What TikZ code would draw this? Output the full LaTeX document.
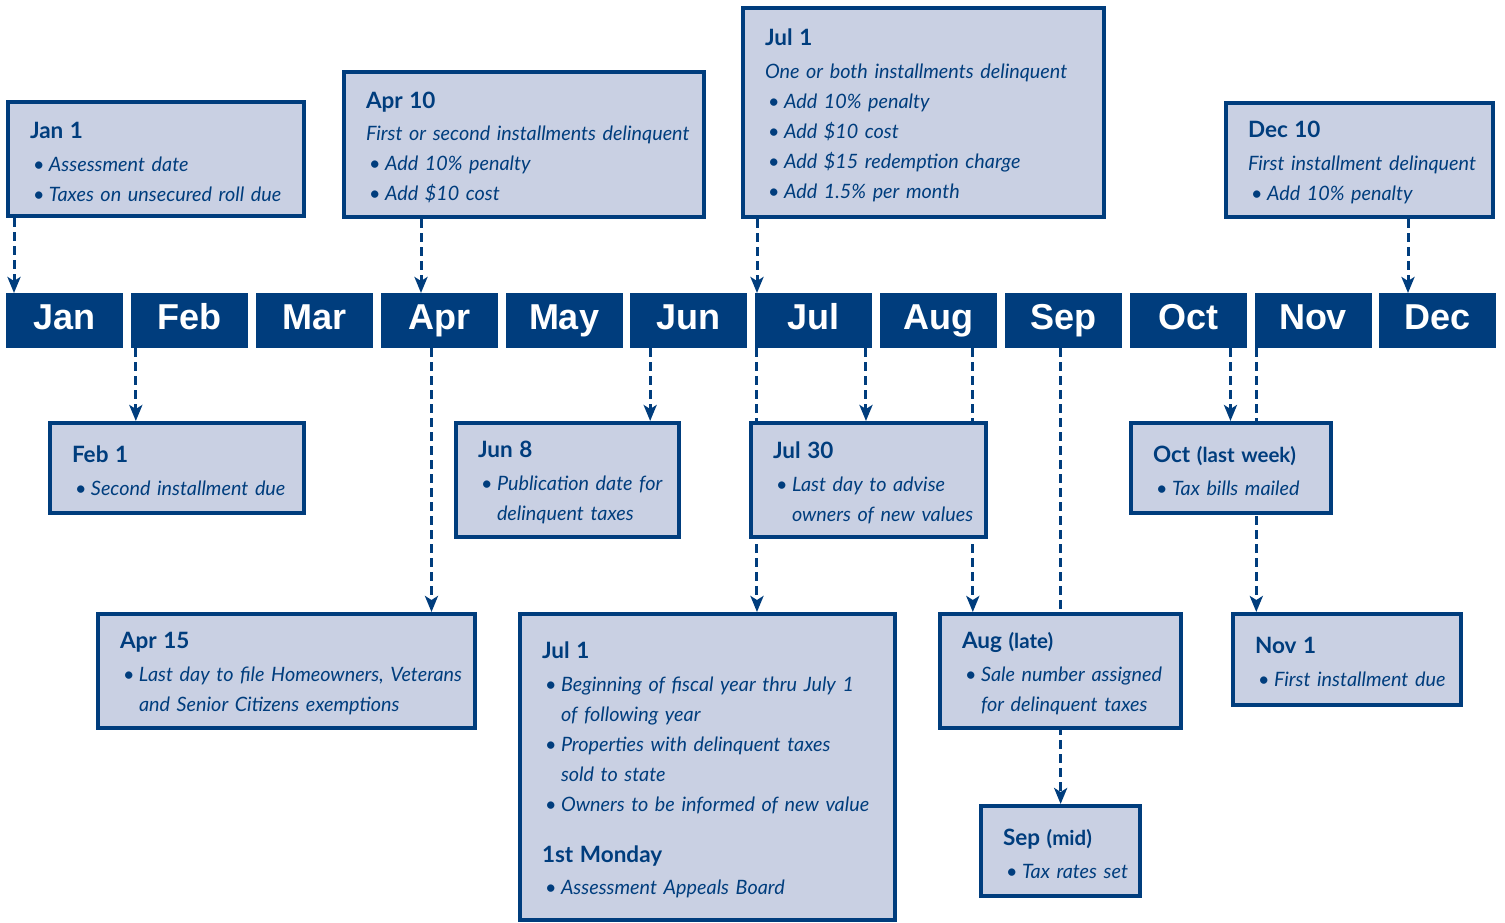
\documentclass[tikz,border=0pt]{standalone}
\usepackage{fontspec}
\setmainfont{Lato}
\newfontfamily\monthfont{Liberation Sans}
\usetikzlibrary{arrows.meta,backgrounds}

\definecolor{navy}{HTML}{003D7D}
\definecolor{boxfill}{HTML}{C9D0E3}

\newcommand{\evtitle}[1]{{\upshape\bfseries\fontsize{22.5}{30}\selectfont\rule{0pt}{22pt}#1}}
\newcommand{\evsub}[1]{{\upshape\bfseries\fontsize{20.5}{30}\selectfont #1}}
\newcommand{\bul}[1]{\hspace*{3pt}\makebox[16pt][l]{\textbullet}\mbox{#1}}
\newcommand{\contline}[1]{\hspace*{19pt}\mbox{#1}}

\tikzset{
  evbox/.style={draw=navy, line width=4pt, fill=boxfill, anchor=north west,
    inner xsep=22pt, inner ysep=0pt, align=left, text=navy,
    font=\fontsize{19.8}{30}\selectfont\itshape},
  monthbar/.style={fill=navy, text=white, anchor=north west, inner sep=0pt,
    minimum width=117pt, minimum height=55pt, text height=26pt, text depth=9pt,
    font=\monthfont\bfseries\fontsize{36}{36}\selectfont},
  link/.style={draw=navy, line width=3pt, dash pattern=on 9pt off 5pt,
    -{Stealth[length=16pt,width=13pt,inset=4pt]}}
}

\begin{document}
\begin{tikzpicture}[x=1pt, y=-1pt]
  \useasboundingbox (0,0) rectangle (1505,922);

  % Month bar
  \foreach \lbl/\nm [count=\i from 0] in {Jan/jan, Feb/feb, Mar/mar, Apr/apr,
      May/may, Jun/jun, Jul/jul, Aug/aug, Sep/sep, Oct/oct, Nov/nov, Dec/dec}
  {
    \node[monthbar] (\nm) at ({6+\i*124.83},293) {\lbl};
  }

  % Boxes above the bar
  \node[evbox, text width=252pt, minimum height=114pt] (janone) at (6,100)
    {\evtitle{Jan 1}\\[3pt]
     \bul{Assessment date}\\
     \bul{Taxes on unsecured roll due}};

  \node[evbox, text width=316pt, minimum height=145pt] (aprten) at (342,70)
    {\evtitle{Apr 10}\\[2pt]
     \mbox{First or second installments delinquent}\\
     \bul{Add 10\% penalty}\\
     \bul{Add \$10 cost}};

  \node[evbox, text width=317pt, minimum height=209pt] (julone) at (741,6)
    {\evtitle{Jul 1}\\[3pt]
     \mbox{One or both installments delinquent}\\
     \bul{Add 10\% penalty}\\
     \bul{Add \$10 cost}\\
     \bul{Add \$15 redemption charge}\\
     \bul{Add 1.5\% per month}};

  \node[evbox, text width=223pt, minimum height=114pt] (decten) at (1224,101)
    {\evtitle{Dec 10}\\[3pt]
     \mbox{First installment delinquent}\\
     \bul{Add 10\% penalty}};

  % Boxes below the bar
  \node[evbox, text width=210pt, minimum height=90pt] (febone) at (48,421)
    {\evtitle{Feb 1}\\[3pt]
     \bul{Second installment due}};

  \node[evbox, text width=179pt, minimum height=114pt] (juneight) at (454,421)
    {\evtitle{Jun 8}\\[3pt]
     \bul{Publication date for}\\
     \contline{delinquent taxes}};

  \node[evbox, text width=191pt, minimum height=114pt] (julthirty) at (749,421)
    {\evtitle{Jul 30}\\[3pt]
     \bul{Last day to advise}\\
     \contline{owners of new values}};

  \node[evbox, text width=156pt, minimum height=90pt] (octlast) at (1129,421)
    {\evtitle{Oct} \evsub{(last week)}\\[3pt]
     \bul{Tax bills mailed}};

  \node[evbox, text width=333pt, minimum height=114pt] (aprfifteen) at (96,612)
    {\evtitle{Apr 15}\\[3pt]
     \bul{Last day to file Homeowners, Veterans}\\
     \contline{and Senior Citizens exemptions}};

  \node[evbox, text width=331pt, minimum height=306pt] (julfirst) at (518,612)
    {\evtitle{Jul 1}\\[3pt]
     \bul{Beginning of fiscal year thru July 1}\\
     \contline{of following year}\\
     \bul{Properties with delinquent taxes}\\
     \contline{sold to state}\\
     \bul{Owners to be informed of new value}\\[21pt]
     \evtitle{1st Monday}\\[2pt]
     \bul{Assessment Appeals Board}};

  \node[evbox, text width=197pt, minimum height=114pt] (auglate) at (938,612)
    {\evtitle{Aug} \evsub{(late)}\\[3pt]
     \bul{Sale number assigned}\\
     \contline{for delinquent taxes}};

  \node[evbox, text width=184pt, minimum height=91pt] (novone) at (1231,612)
    {\evtitle{Nov 1}\\[3pt]
     \bul{First installment due}};

  \node[evbox, text width=115pt, minimum height=90pt] (sepmid) at (979,804)
    {\evtitle{Sep} \evsub{(mid)}\\[3pt]
     \bul{Tax rates set}};

  \begin{scope}[on background layer]
    % Dates above point down to their month
    \draw[link] ([xshift=8pt]janone.south west) -- ([xshift=8pt]janone.south west |- jan.north);
    \draw[link] ([xshift=79pt]aprten.south west) -- ([xshift=79pt]aprten.south west |- apr.north);
    \draw[link] ([xshift=16pt]julone.south west) -- ([xshift=16pt]julone.south west |- jul.north);
    \draw[link] ([xshift=184pt]decten.south west) -- ([xshift=184pt]decten.south west |- dec.north);

    % Months point down to the dates below
    \draw[link] ([xshift=5pt]feb.south west) -- ([xshift=5pt]feb.south west |- febone.north);
    \draw[link] ([xshift=51pt]apr.south west) -- ([xshift=51pt]apr.south west |- aprfifteen.north);
    \draw[link] ([xshift=20pt]jun.south west) -- ([xshift=20pt]jun.south west |- juneight.north);
    \draw[link] ([xshift=2pt]jul.south west) -- ([xshift=2pt]jul.south west |- julfirst.north);
    \draw[link] ([xshift=111pt]jul.south west) -- ([xshift=111pt]jul.south west |- julthirty.north);
    \draw[link] ([xshift=93pt]aug.south west) -- ([xshift=93pt]aug.south west |- auglate.north);
    \draw[link] ([xshift=56pt]sep.south west) -- ([xshift=56pt]sep.south west |- sepmid.north);
    \draw[link] ([xshift=101pt]oct.south west) -- ([xshift=101pt]oct.south west |- octlast.north);
    \draw[link] ([xshift=2pt]nov.south west) -- ([xshift=2pt]nov.south west |- novone.north);
  \end{scope}
\end{tikzpicture}
\end{document}
